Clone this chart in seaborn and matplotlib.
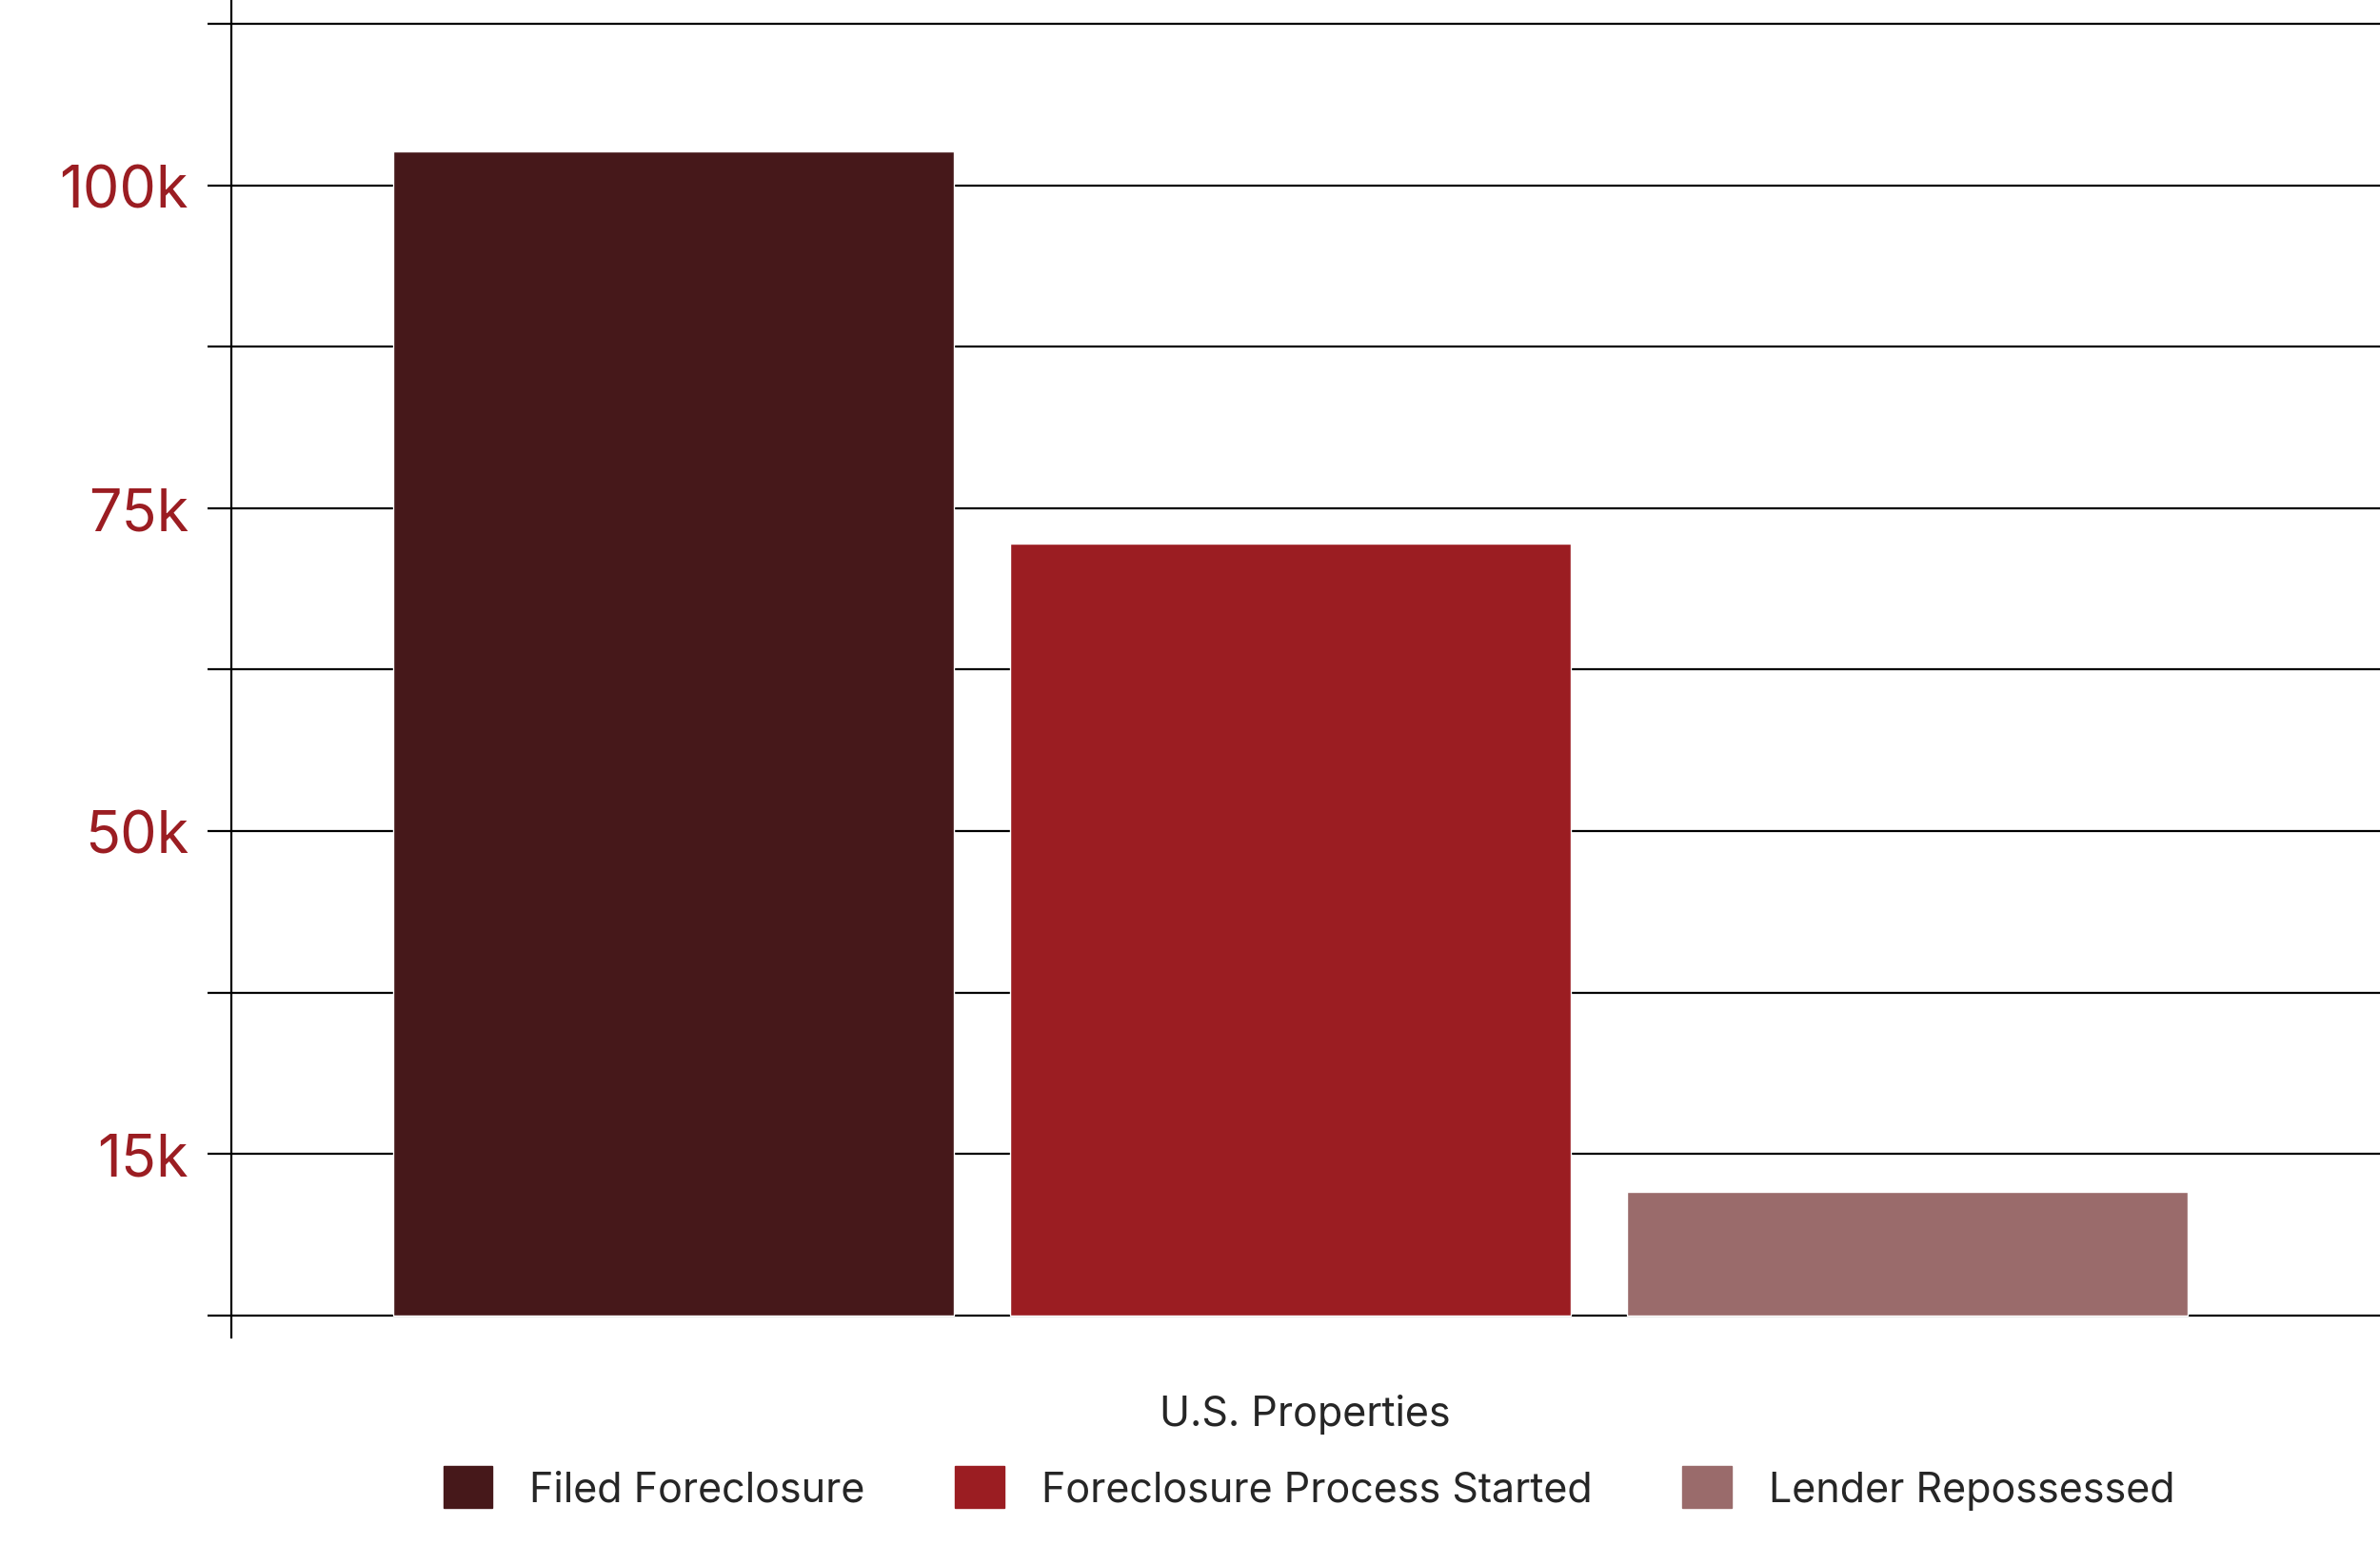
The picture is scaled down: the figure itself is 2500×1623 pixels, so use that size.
import pandas as pd
import numpy as np
import matplotlib
matplotlib.use("Agg")
import matplotlib.pyplot as plt
import seaborn as sns

categories = ["U.S. Properties"]
series = ["Filed Foreclosure", "Foreclosure Process Started", "Lender Repossessed"]
values = [103.0, 68.3, 10.9]
colors = ["#46181A", "#9B1D22", "#9A6B6B"]
tick_labels = ["", "15k", "", "50k", "", "75k", "", "100k", ""]

sns.set_theme(style="white")
plt.rcParams["font.family"] = ["Inter", "DejaVu Sans"]

df = pd.DataFrame({"cat": categories * 3, "series": series, "value": values})

fig = plt.figure(figsize=(25, 16.24), dpi=100)
ax = fig.add_axes([0.097, 0.134, 0.903, 0.866])

step = 100 / 7
ticks = [i * step for i in range(9)]
for t in ticks:
    ax.axhline(t, color="black", lw=1.6, zorder=0)

sns.barplot(data=df, x="cat", y="value", hue="series", palette=colors,
            gap=0.09, ax=ax, zorder=2, saturation=1)

ax.set_xlim(-0.458, 0.471)
ax.set_ylim(-2.0, 116.5)
ax.set_yticks(ticks)
ax.set_yticklabels(tick_labels, color="#9B1D22", fontsize=44)
ax.tick_params(axis="y", length=18, width=1.6, color="black", left=True, pad=14)
ax.tick_params(axis="x", length=0, labelsize=31, pad=20)
ax.set_xticklabels([])
ax.set_xlabel("U.S. Properties", fontsize=31, labelpad=22)
ax.set_ylabel("")
for s in ["top", "right", "bottom"]:
    ax.spines[s].set_visible(False)
ax.spines["left"].set_color("black")
ax.spines["left"].set_linewidth(1.6)

ax.legend_.remove()
handles = [plt.Rectangle((0, 0), 1, 1, color=c) for c in colors]
fig.legend(handles, series, loc="center", bbox_to_anchor=(0.55, 0.037), ncol=3,
           frameon=False, fontsize=31, handlelength=1.2, handleheight=1.2,
           columnspacing=2.2, handletextpad=0.9)

fig.savefig("out.png", dpi=100)
